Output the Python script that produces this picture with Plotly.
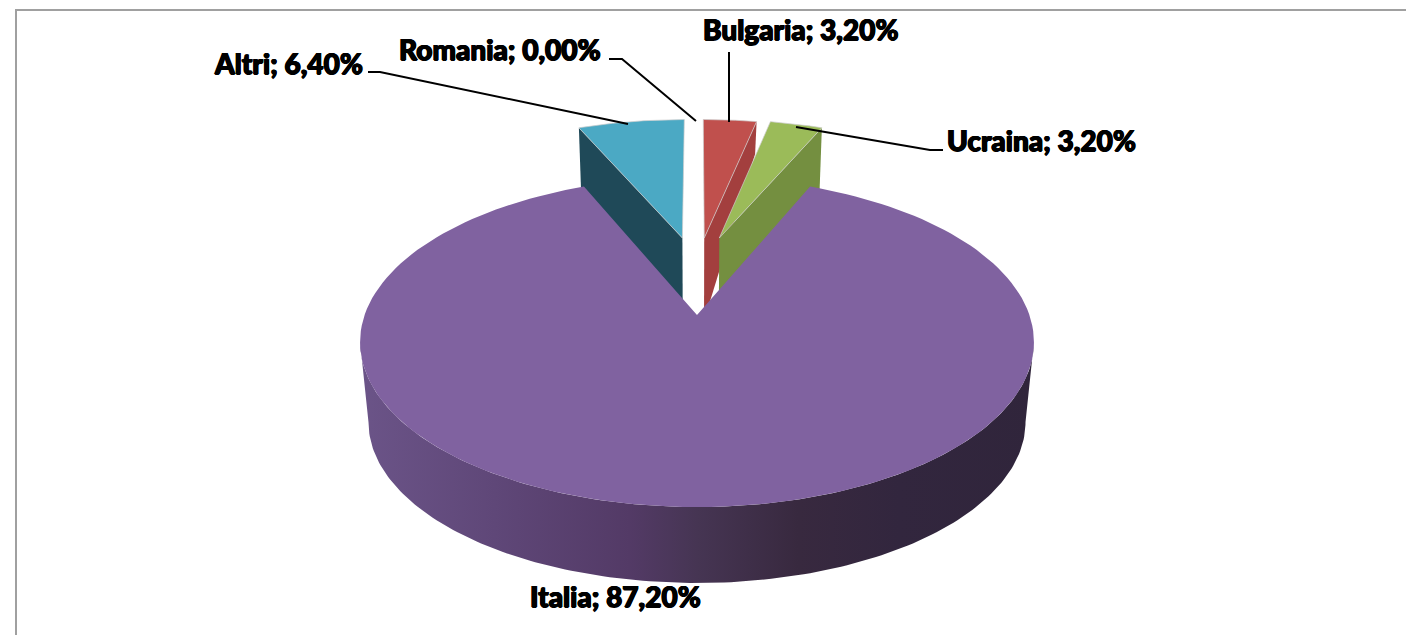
import math
import plotly.graph_objects as go

# ---- data ----
categories = ["Bulgaria", "Romania", "Ucraina", "Italia", "Altri"]
values = [3.2, 0.0, 3.2, 87.2, 6.4]
pulled = [True, True, True, False, True]
top_colors = ["#C0504D", "#C0504D", "#9BBB59", "#8062A0", "#4BA9C4"]
wall_colors = ["#A33F3E", "#A33F3E", "#748F40", "#5F4778", "#1F4958"]
wall_far = [0.38, 0.38, 1.0, 1.0, 1.0]   # share of wall height kept at the rim
label_pos = {"Bulgaria": (801, 29), "Romania": (500, 49), "Ucraina": (1041, 140),
             "Italia": (615, 596), "Altri": (288, 63)}
side_stops = [[0, "#6B5488"], [0.2, "#5F4778"], [0.4, "#533A66"], [0.5, "#463553"],
              [0.65, "#38293F"], [0.8, "#32263E"], [1, "#30253B"]]

# ---- projection of the pie plane ----
CX, CY = 697, 315
R, RC, P = 332.4, 160.6, 0.1636
PULL_Y, PULL_X = 0.52, 0.45
BOTTOM_SCALE, BOTTOM_OFF = 0.975, 80.8


def project(x, y):
    s = 1 / (1 + P * y)
    return CX + R * x * s, CY - RC * y * s


def lower(px, py, far=1.0, t=1.0):
    bx = CX + (px - CX) * BOTTOM_SCALE
    by = CY + (py - CY) * BOTTOM_SCALE + BOTTOM_OFF
    k = 1 - (1 - far) * t
    return bx, py + (by - py) * k


def rim(a0, a1, x0, y0, n=160):
    pts = []
    for i in range(n + 1):
        a = math.radians(a0 + (a1 - a0) * i / n)
        pts.append(project(x0 + math.sin(a), y0 + math.cos(a)))
    return pts


def poly(pts, **kw):
    xs = [p[0] for p in pts] + [pts[0][0]]
    ys = [p[1] for p in pts] + [pts[0][1]]
    return go.Scatter(x=xs, y=ys, mode="lines", fill="toself", hoverinfo="skip",
                      showlegend=False, **kw)


slices = []
angle = 0.0
for name, v, pull, tc, wc, far in zip(categories, values, pulled, top_colors, wall_colors, wall_far):
    sweep = v / sum(values) * 360
    mid = angle + sweep / 2
    mid_wrapped = mid - 360 if mid > 180 else mid
    x0 = PULL_Y * math.tan(math.radians(mid_wrapped)) * PULL_X if pull else 0.0
    y0 = PULL_Y if pull else 0.0
    slices.append(dict(name=name, v=v, a0=angle, a1=angle + sweep, x0=x0, y0=y0,
                       tc=tc, wc=wc, far=far))
    angle += sweep

# the slices are painted from the back to the front
paint_order = ["Altri", "Bulgaria", "Ucraina", "Italia"]
by_name = {s["name"]: s for s in slices}

fig = go.Figure()
for name in paint_order:
    s = by_name[name]
    top_rim = rim(s["a0"], s["a1"], s["x0"], s["y0"])
    apex = project(s["x0"], s["y0"])
    if name == "Italia":
        # only the part of the rim that faces the viewer has a visible wall
        tangent = math.degrees(math.acos(-P))
        front = rim(tangent, 360 - tangent, 0, 0)
        low = [lower(*p) for p in front]
        fig.add_trace(poly(front + low[::-1], line=dict(width=0),
                           fillgradient=dict(type="horizontal", colorscale=side_stops)))
        fig.add_trace(poly([apex] + top_rim, name=name, line=dict(width=0), fillcolor=s["tc"]))
    else:
        edge = top_rim[0] if name == "Altri" else top_rim[-1]
        wall = [apex, edge, lower(*edge, far=s["far"], t=1), lower(*apex)]
        fig.add_trace(poly(wall, line=dict(width=0), fillcolor=s["wc"]))
        fig.add_trace(poly([apex] + top_rim, name=name,
                           line=dict(width=1, color="rgba(205,205,205,0.7)"), fillcolor=s["tc"]))

THICK = "0.7px 0 0 #000, -0.7px 0 0 #000, 0 0.5px 0 #000, 0 -0.5px 0 #000"
annotations = []
for s in slices:
    text = f"{s['name']}; {s['v']:.2f}%".replace(".", ",")
    lx, ly = label_pos[s["name"]]
    annotations.append(dict(x=lx, y=ly, xref="x", yref="y", text=text, showarrow=False,
                            xanchor="center", yanchor="middle",
                            font=dict(family="Lato", size=28, color="#000000", weight=900,
                                      shadow=THICK)))

leaders = [
    "M368,72 L380,72 L628,124",
    "M609,59 L622,59 L696,121",
    "M729,52 L729,122",
    "M796,127 L930,150 L943,150",
]
shapes = [dict(type="path", path=p, line=dict(color="#000000", width=2), layer="above") for p in leaders]
shapes.append(dict(type="path", path="M16,645 L16,10 L1416,10",
                   line=dict(color="#A0A0A0", width=2), layer="below"))

fig.update_layout(
    width=1406, height=635, margin=dict(l=0, r=0, t=0, b=0),
    paper_bgcolor="white", plot_bgcolor="white", showlegend=False,
    xaxis=dict(range=[0, 1406], visible=False, fixedrange=True),
    yaxis=dict(range=[635, 0], visible=False, fixedrange=True),
    annotations=annotations, shapes=shapes,
)
fig.write_html("out.html", config=dict(displayModeBar=False),
               post_script="document.body.style.margin='0';")
